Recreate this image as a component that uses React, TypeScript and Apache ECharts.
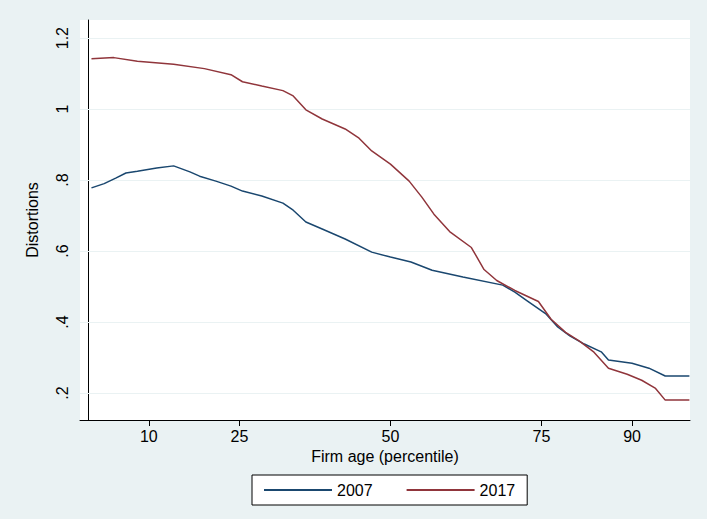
import React, { useEffect, useRef } from 'react';
import * as echarts from 'echarts';

const xTicks = [10, 25, 50, 75, 90];
const yTicks = [0.2, 0.4, 0.6, 0.8, 1, 1.2];

const age2007 = [0.5, 2.6, 4.6, 6.2, 8.1, 11.3, 14.1, 16.8, 18.4, 21.1, 23.6, 25.5, 28.7, 32.2, 33.9, 36.0, 38.7, 42.5, 46.9, 50, 53.4, 56.9, 62.0, 68.6, 70.6, 72.7, 75.8, 77.7, 79.7, 82.1, 84.9, 86.1, 90, 92.8, 95.5, 99.5];
const dist2007 = [0.778, 0.79, 0.806, 0.82, 0.825, 0.834, 0.84, 0.823, 0.811, 0.797, 0.783, 0.769, 0.755, 0.735, 0.715, 0.682, 0.662, 0.634, 0.597, 0.583, 0.569, 0.546, 0.527, 0.504, 0.484, 0.459, 0.422, 0.386, 0.361, 0.338, 0.316, 0.293, 0.284, 0.27, 0.248, 0.248];

const age2017 = [0.5, 4.2, 8.1, 14.1, 19.2, 23.6, 25.5, 28.7, 32.2, 33.9, 36.0, 38.7, 42.5, 44.8, 46.9, 50, 53.1, 55.2, 57.2, 59.8, 63.4, 65.5, 67.6, 70.6, 74.5, 76.6, 79, 81.3, 83.7, 86.1, 89.2, 91.6, 93.9, 95.5, 99.5];
const dist2017 = [1.142, 1.145, 1.135, 1.126, 1.114, 1.097, 1.077, 1.065, 1.052, 1.037, 0.998, 0.972, 0.944, 0.918, 0.882, 0.845, 0.797, 0.752, 0.704, 0.655, 0.61, 0.548, 0.517, 0.489, 0.458, 0.408, 0.371, 0.346, 0.315, 0.27, 0.253, 0.236, 0.213, 0.18, 0.18];

const zip = (xs: number[], ys: number[]) => xs.map((x, i) => [x, ys[i]]);

const App: React.FC = () => {
  const chartRef = useRef<HTMLDivElement>(null);
  useEffect(() => {
    if (!chartRef.current) return;
    const chart = echarts.init(chartRef.current, undefined, { renderer: 'svg' });
    const font = 'Liberation Sans, Arial, sans-serif';
    chart.setOption({
      animation: false,
      backgroundColor: '#eaf2f3',
      textStyle: { fontFamily: font },
      grid: { left: 80, right: 17, top: 20, bottom: 99, show: true, backgroundColor: '#fff', borderWidth: 0 },
      legend: {
        bottom: 14,
        left: 252,
        itemWidth: 68,
        itemGap: 34,
        padding: [7, 12],
        borderColor: '#000',
        borderWidth: 1,
        backgroundColor: '#fff',
        borderRadius: 0,
        textStyle: { fontSize: 16, color: '#000', fontFamily: font },
        data: [{ name: '2007', icon: 'rect' }, { name: '2017', icon: 'rect' }],
        itemHeight: 2,
      },
      xAxis: {
        type: 'value',
        min: -1.4,
        max: 99.6,
        name: 'Firm age (percentile)',
        nameLocation: 'middle',
        nameGap: 24,
        nameTextStyle: { fontSize: 16, color: '#000' },
        axisLine: { lineStyle: { color: '#000' } },
        axisTick: { customValues: xTicks, length: 6, lineStyle: { color: '#000' } },
        axisLabel: { customValues: xTicks, fontSize: 16, color: '#000', margin: 8 },
        splitLine: { show: false },
      },
      yAxis: {
        type: 'value',
        min: 0.124,
        max: 1.251,
        name: 'Distortions',
        nameLocation: 'middle',
        nameGap: 40,
        nameTextStyle: { fontSize: 16, color: '#000' },
        axisLine: { show: true, lineStyle: { color: '#000' } },
        axisTick: { show: true, customValues: yTicks, length: 6, lineStyle: { color: '#000' } },
        axisLabel: {
          customValues: yTicks,
          fontSize: 16,
          color: '#000',
          rotate: 90,
          margin: 10,
          formatter: (v: number) => {
            const s = String(Math.round(v * 10) / 10);
            return s.startsWith('0') ? s.slice(1) : s;
          },
        },
        splitLine: { show: false },
      },
      series: [
        {
          name: 'grid',
          type: 'line',
          data: [],
          z: 1,
          markLine: {
            silent: true,
            symbol: 'none',
            z: 1,
            label: { show: false },
            lineStyle: { color: '#eaf2f3', type: 'solid', width: 1.2 },
            data: yTicks.map((v) => ({ yAxis: v })),
          },
        },
        {
          name: '2007',
          type: 'line',
          z: 5,
          data: zip(age2007, dist2007),
          showSymbol: false,
          color: '#1a476f',
          lineStyle: { width: 1.5 },
        },
        {
          name: '2017',
          type: 'line',
          z: 5,
          data: zip(age2017, dist2017),
          showSymbol: false,
          color: '#90353b',
          lineStyle: { width: 1.5 },
        },
      ],
    });
    return () => chart.dispose();
  }, []);
  return <div ref={chartRef} style={{ position: 'absolute', left: 0, top: 0, width: 707, height: 519 }} />;
};

export default App;
